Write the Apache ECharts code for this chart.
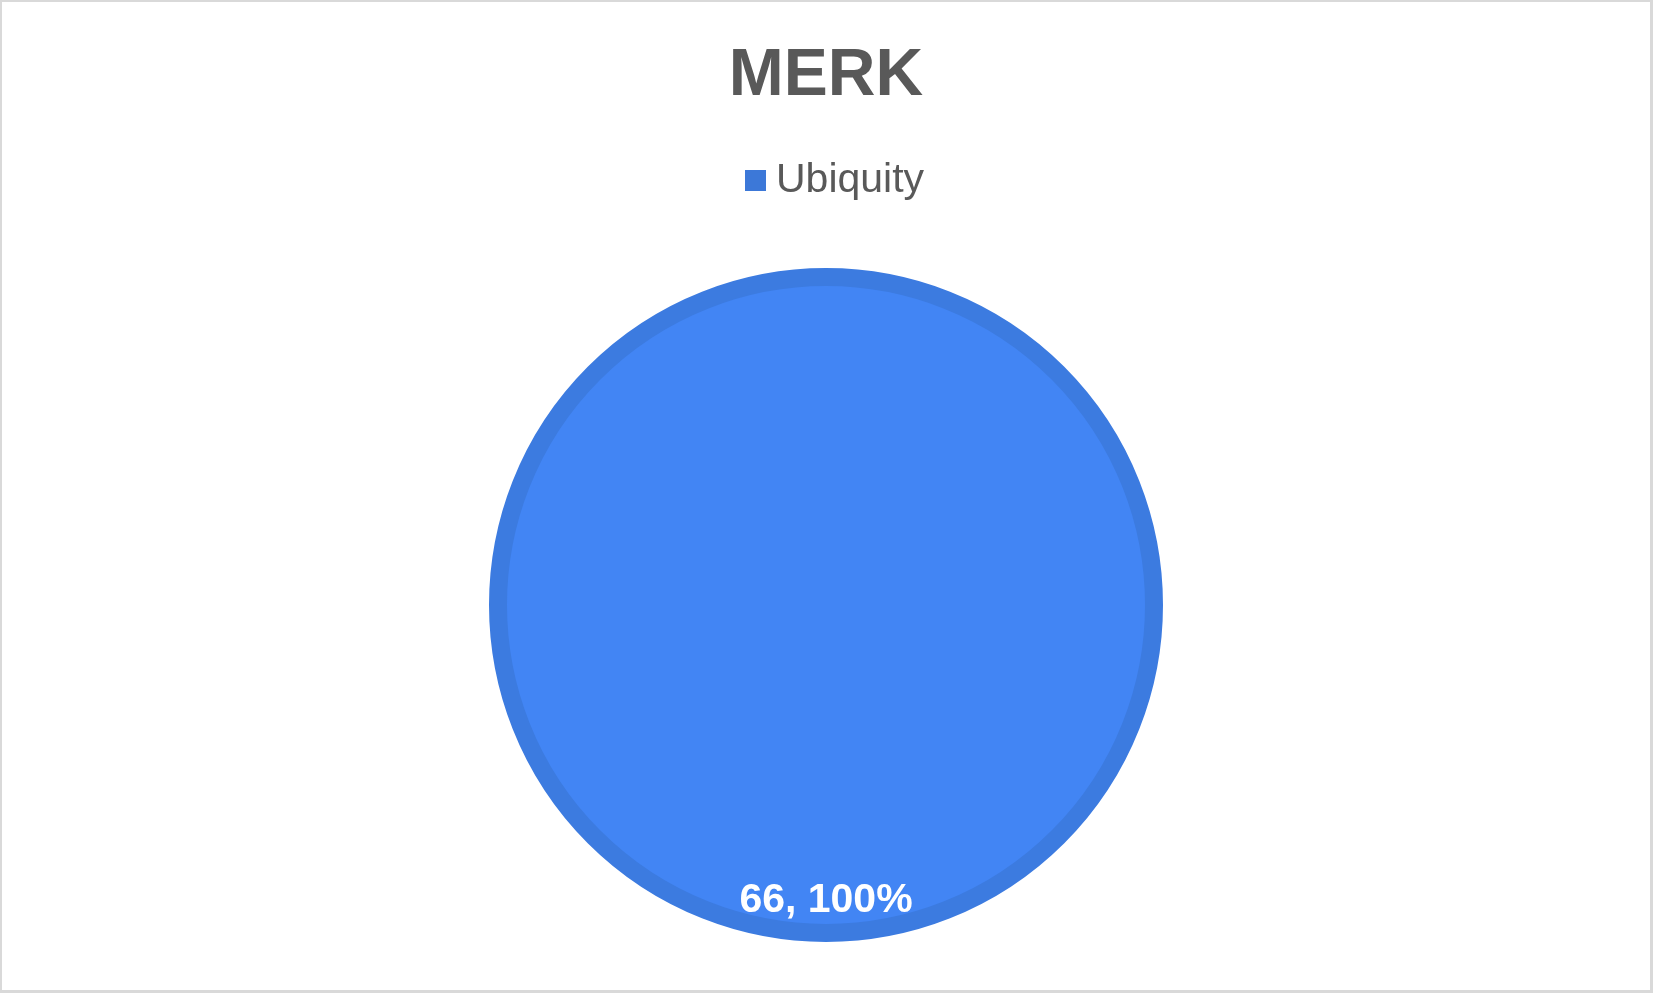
<!DOCTYPE html>
<html>
<head>
<meta charset="utf-8">
<script src="https://cdn.jsdelivr.net/npm/echarts@6/dist/echarts.min.js"></script>
<style>
html,body{margin:0;padding:0;background:#fff;}
#chart{width:1653px;height:993px;box-sizing:border-box;border-style:solid;border-color:#d9d9d9;border-width:2px 3px 3px 2px;}
</style>
</head>
<body>
<div id="chart"></div>
<script>
var titleText = 'MERK';
var categories = ['Ubiquity'];
var values = [66];

var chart = echarts.init(document.getElementById('chart'));
chart.setOption({
  backgroundColor: '#ffffff',
  animation: false,
  title: {
    text: titleText,
    left: 'center',
    top: 37,
    textStyle: {fontFamily: 'Liberation Sans, Arial', fontSize: 66, fontWeight: 'bold', color: '#595959'}
  },
  legend: {
    data: categories,
    top: 153,
    left: 738,
    itemWidth: 21,
    itemHeight: 21,
    icon: 'rect',
    textStyle: {fontFamily: 'Liberation Sans, Arial', fontSize: 41, color: '#595959', padding: [0,0,0,5]},
    itemStyle: {color: '#3c78d8', borderWidth: 0}
  },
  series: [{
    type: 'pie',
    center: [824, 603],
    radius: [0, 328],
    startAngle: 90,
    data: categories.map(function (c, i) { return {name: c, value: values[i]}; }),
    itemStyle: {color: '#4285f4', borderColor: '#3c7be0', borderWidth: 18},
    emphasis: {disabled: true},
    label: {
      show: true,
      position: 'inside',
      formatter: function (p) { return p.value + ', ' + Math.round(p.percent) + '%'; },
      fontFamily: 'Liberation Sans, Arial',
      fontSize: 41,
      fontWeight: 'bold',
      color: '#ffffff'
    },
    labelLayout: function () {
      return {x: 824, y: 899, align: 'center', verticalAlign: 'middle'};
    },
    labelLine: {show: false}
  }]
});
</script>
</body>
</html>
